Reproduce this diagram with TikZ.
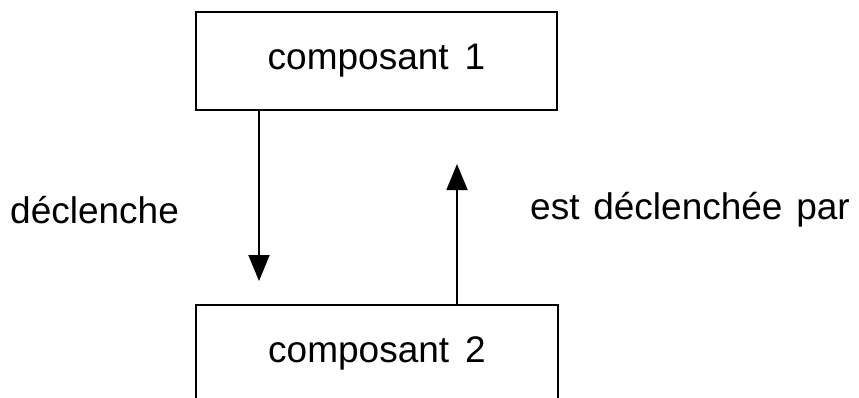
\documentclass[tikz,border=0pt]{standalone}
\usepackage{fontspec}
\setmainfont{Liberation Sans}
\usetikzlibrary{arrows.meta}
\begin{document}
\begin{tikzpicture}[x=1pt,y=-1pt,
  boxstyle/.style={draw=black, line width=2.6pt, fill=white, inner sep=0pt, font=\fontsize{37}{40}\selectfont},
  lbl/.style={font=\fontsize{37}{40}\selectfont, inner sep=0pt, anchor=west},
  arr/.style={line width=1.9pt, -{Triangle[length=26pt,width=21pt]}}]
\fill[white] (0,0) rectangle (859,397);
\useasboundingbox (0,0) rectangle (859,397);
\clip (0,0) rectangle (859,397);
\node[boxstyle, minimum width=361pt, minimum height=98pt] (c1) at (376.5,61) {composant\hspace{16pt}1};
\node[boxstyle, minimum width=362pt, minimum height=96pt] (c2) at (377,353) {composant\hspace{16pt}2};
\coordinate (dn) at (259,281);
\coordinate (up) at (457,164);
\draw[arr] (c1.south -| dn) -- (dn);
\draw[arr] (c2.north -| up) -- (up);
\node[lbl] (l1) at (10,210) {déclenche};
\node[lbl] (l2) at (530,210) {est\hspace{13.8pt}déclenchée\hspace{13.8pt}par};
\end{tikzpicture}
\end{document}
